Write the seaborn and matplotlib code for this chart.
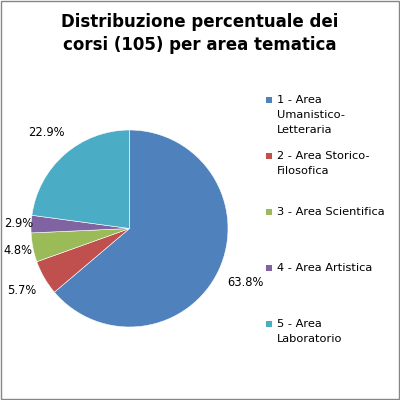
import matplotlib
matplotlib.use("Agg")
import matplotlib.pyplot as plt
import seaborn as sns
import numpy as np
from matplotlib.patches import Rectangle

# data
aree = ["1 - Area\nUmanistico-\nLetteraria", "2 - Area Storico-\nFilosofica",
        "3 - Area Scientifica", "4 - Area Artistica", "5 - Area\nLaboratorio"]
corsi = [67, 6, 5, 3, 24]
colori = ["#4F81BD", "#C0504D", "#9BBB59", "#8064A2", "#4BACC6"]

sns.set_theme(style="white")
plt.rcParams['font.family'] = ['DejaVu Sans']
plt.rcParams['text.color'] = 'black'

fig = plt.figure(figsize=(4, 4), dpi=100)
fig.patch.set_facecolor("white")

### pie axes: centre (129.5, 228.5) px, radius 98.5 px
W = 400.0
ax = fig.add_axes([(129.5 - 98.5) / W, (W - 228.5 - 98.5) / W, 197 / W, 197 / W])
wedges, texts, autotexts = ax.pie(corsi, colors=colori, startangle=90, counterclock=False,
                                  autopct='%1.1f%%', pctdistance=1.25,
                                  wedgeprops=dict(edgecolor="white", linewidth=0.4),
                                  textprops=dict(fontsize=8.3, color="black"))
ax.set_xlim(-1, 1)
ax.set_ylim(-1, 1)
ax.set_aspect("equal")

# excel style label distances
dist = [1.30, 1.26, 1.15, 1.13, 1.29]
tot = float(sum(corsi))
cum = 0
for i, t in enumerate(autotexts):
    mid = 90 - 360 * (cum + corsi[i] / 2) / tot
    cum += corsi[i]
    a = np.deg2rad(mid)
    t.set_position((dist[i] * np.cos(a), dist[i] * np.sin(a)))
    t.set_clip_on(False)

### title
fig.text(0.5, 1 - 33.5 / W, "Distribuzione percentuale dei\ncorsi (105) per area tematica",
         ha="center", va="center", fontsize=12, fontweight="bold", linespacing=1.38,
         color="black")

### legend (manual, excel-like spacing)
ys = [100, 156, 212, 268, 324]
for i in range(len(aree)):
    y = ys[i]
    fig.patches.append(Rectangle((266 / W, 1 - (y + 3) / W), 6 / W, 6 / W,
                                 transform=fig.transFigure, facecolor=colori[i],
                                 edgecolor="none"))
    fig.text(277 / W, 1 - (y - 5) / W, aree[i], ha="left", va="top",
             fontsize=8.2, linespacing=1.6, color="black")

### border
fig.patches.append(Rectangle((1 / W, 1 / W), 1 - 2 / W, 1 - 2 / W,
                             transform=fig.transFigure, facecolor="none",
                             edgecolor="#868686", linewidth=1))

fig.savefig("out.png", dpi=100)
